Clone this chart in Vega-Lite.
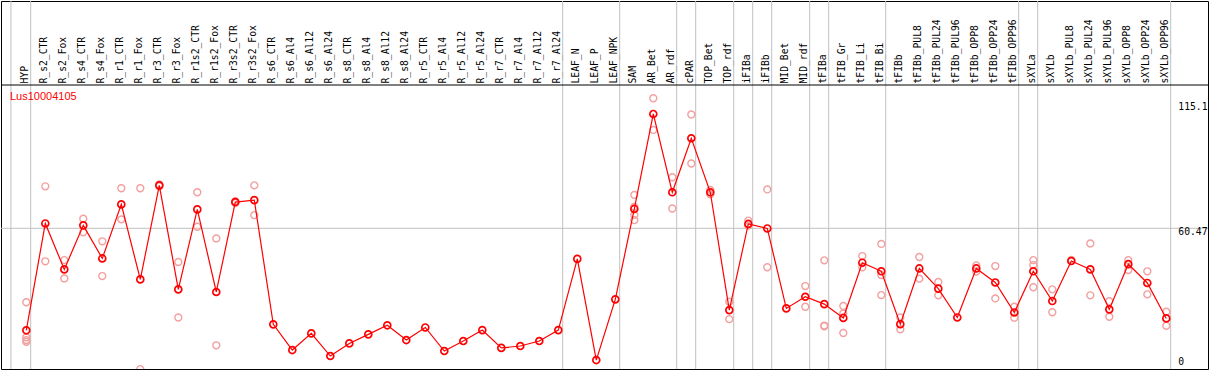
{
  "$schema": "https://vega.github.io/schema/vega-lite/v6.json",
  "width": 1207,
  "height": 368,
  "autosize": {"type": "none"},
  "padding": {"left": 1, "top": 1, "right": 1, "bottom": 1},
  "background": "white",
  "config": {"view": {"stroke": "black", "strokeWidth": 1}},
  "data": {"values": [{}]},
  "datasets": {
    "means": [
      {"tissue": "HYP", "value": 17.6},
      {"tissue": "R_s2_CTR", "value": 62.5},
      {"tissue": "R_s2_Fox", "value": 43.2},
      {"tissue": "R_s4_CTR", "value": 61.7},
      {"tissue": "R_s4_Fox", "value": 47.8},
      {"tissue": "R_r1_CTR", "value": 70.5},
      {"tissue": "R_r1_Fox", "value": 39.0},
      {"tissue": "R_r3_CTR", "value": 78.5},
      {"tissue": "R_r3_Fox", "value": 34.8},
      {"tissue": "R_r1s2_CTR", "value": 68.4},
      {"tissue": "R_r1s2_Fox", "value": 33.7},
      {"tissue": "R_r3s2_CTR", "value": 71.5},
      {"tissue": "R_r3s2_Fox", "value": 72.3},
      {"tissue": "R_s6_CTR", "value": 20.1},
      {"tissue": "R_s6_Al4", "value": 9.3},
      {"tissue": "R_s6_Al12", "value": 16.3},
      {"tissue": "R_s6_Al24", "value": 6.8},
      {"tissue": "R_s8_CTR", "value": 12.1},
      {"tissue": "R_s8_Al4", "value": 15.9},
      {"tissue": "R_s8_Al12", "value": 19.7},
      {"tissue": "R_s8_Al24", "value": 13.5},
      {"tissue": "R_r5_CTR", "value": 18.8},
      {"tissue": "R_r5_Al4", "value": 8.9},
      {"tissue": "R_r5_Al12", "value": 13.1},
      {"tissue": "R_r5_Al24", "value": 17.7},
      {"tissue": "R_r7_CTR", "value": 10.2},
      {"tissue": "R_r7_Al4", "value": 11.0},
      {"tissue": "R_r7_Al12", "value": 13.1},
      {"tissue": "R_r7_Al24", "value": 17.7},
      {"tissue": "LEAF_N", "value": 47.6},
      {"tissue": "LEAF_P", "value": 5.1},
      {"tissue": "LEAF_NPK", "value": 30.6},
      {"tissue": "SAM", "value": 68.6},
      {"tissue": "AR_Bet", "value": 108.5},
      {"tissue": "AR_rdf", "value": 75.6},
      {"tissue": "cPAR", "value": 98.3},
      {"tissue": "TOP_Bet", "value": 75.6},
      {"tissue": "TOP_rdf", "value": 26.1},
      {"tissue": "iFIBa", "value": 62.3},
      {"tissue": "iFIBb", "value": 60.4},
      {"tissue": "MID_Bet", "value": 26.8},
      {"tissue": "MID_rdf", "value": 31.7},
      {"tissue": "tFIBa", "value": 28.6},
      {"tissue": "tFIB_Gr", "value": 22.8},
      {"tissue": "tFIB_Li", "value": 46.0},
      {"tissue": "tFIB_Bi", "value": 42.4},
      {"tissue": "tFIBb", "value": 20.2},
      {"tissue": "tFIBb_PUL8", "value": 43.6},
      {"tissue": "tFIBb_PUL24", "value": 35.1},
      {"tissue": "tFIBb_PUL96", "value": 23.0},
      {"tissue": "tFIBb_OPP8", "value": 43.6},
      {"tissue": "tFIBb_OPP24", "value": 37.7},
      {"tissue": "tFIBb_OPP96", "value": 25.1},
      {"tissue": "sXYLa", "value": 42.4},
      {"tissue": "sXYLb", "value": 29.9},
      {"tissue": "sXYLb_PUL8", "value": 46.7},
      {"tissue": "sXYLb_PUL24", "value": 43.2},
      {"tissue": "sXYLb_PUL96", "value": 26.4},
      {"tissue": "sXYLb_OPP8", "value": 45.4},
      {"tissue": "sXYLb_OPP24", "value": 37.5},
      {"tissue": "sXYLb_OPP96", "value": 22.6}
    ],
    "reps": [
      {"tissue": "HYP", "value": 29.4},
      {"tissue": "HYP", "value": 14.7},
      {"tissue": "HYP", "value": 13.5},
      {"tissue": "HYP", "value": 12.8},
      {"tissue": "R_s2_CTR", "value": 78.1},
      {"tissue": "R_s2_CTR", "value": 46.6},
      {"tissue": "R_s2_Fox", "value": 47.1},
      {"tissue": "R_s2_Fox", "value": 39.4},
      {"tissue": "R_s4_CTR", "value": 64.5},
      {"tissue": "R_s4_CTR", "value": 58.8},
      {"tissue": "R_s4_Fox", "value": 55.0},
      {"tissue": "R_s4_Fox", "value": 40.4},
      {"tissue": "R_r1_CTR", "value": 77.3},
      {"tissue": "R_r1_CTR", "value": 64.2},
      {"tissue": "R_r1_Fox", "value": 77.3},
      {"tissue": "R_r1_Fox", "value": 1.3},
      {"tissue": "R_r3_CTR", "value": 78.9},
      {"tissue": "R_r3_CTR", "value": 78.1},
      {"tissue": "R_r3_Fox", "value": 46.3},
      {"tissue": "R_r3_Fox", "value": 23.0},
      {"tissue": "R_r1s2_CTR", "value": 75.6},
      {"tissue": "R_r1s2_CTR", "value": 61.1},
      {"tissue": "R_r1s2_Fox", "value": 56.2},
      {"tissue": "R_r1s2_Fox", "value": 11.3},
      {"tissue": "R_r3s2_CTR", "value": 71.9},
      {"tissue": "R_r3s2_CTR", "value": 71.1},
      {"tissue": "R_r3s2_Fox", "value": 78.5},
      {"tissue": "R_r3s2_Fox", "value": 66.0},
      {"tissue": "SAM", "value": 74.5},
      {"tissue": "SAM", "value": 69.5},
      {"tissue": "SAM", "value": 66.1},
      {"tissue": "SAM", "value": 63.9},
      {"tissue": "AR_Bet", "value": 115.1},
      {"tissue": "AR_Bet", "value": 101.8},
      {"tissue": "AR_rdf", "value": 81.9},
      {"tissue": "AR_rdf", "value": 68.8},
      {"tissue": "cPAR", "value": 108.3},
      {"tissue": "cPAR", "value": 87.7},
      {"tissue": "TOP_Bet", "value": 76.6},
      {"tissue": "TOP_Bet", "value": 74.8},
      {"tissue": "TOP_rdf", "value": 29.6},
      {"tissue": "TOP_rdf", "value": 22.3},
      {"tissue": "iFIBa", "value": 63.7},
      {"tissue": "iFIBa", "value": 61.6},
      {"tissue": "iFIBb", "value": 76.8},
      {"tissue": "iFIBb", "value": 44.1},
      {"tissue": "MID_rdf", "value": 36.2},
      {"tissue": "MID_rdf", "value": 27.5},
      {"tissue": "tFIBa", "value": 47.0},
      {"tissue": "tFIBa", "value": 19.3},
      {"tissue": "tFIBa", "value": 19.6},
      {"tissue": "tFIB_Gr", "value": 27.8},
      {"tissue": "tFIB_Gr", "value": 24.7},
      {"tissue": "tFIB_Gr", "value": 16.5},
      {"tissue": "tFIB_Li", "value": 48.8},
      {"tissue": "tFIB_Li", "value": 44.1},
      {"tissue": "tFIB_Bi", "value": 53.9},
      {"tissue": "tFIB_Bi", "value": 40.8},
      {"tissue": "tFIB_Bi", "value": 32.4},
      {"tissue": "tFIBb", "value": 23.0},
      {"tissue": "tFIBb", "value": 18.0},
      {"tissue": "tFIBb_PUL8", "value": 48.4},
      {"tissue": "tFIBb_PUL8", "value": 39.3},
      {"tissue": "tFIBb_PUL24", "value": 37.9},
      {"tissue": "tFIBb_PUL24", "value": 32.3},
      {"tissue": "tFIBb_OPP8", "value": 44.9},
      {"tissue": "tFIBb_OPP8", "value": 42.3},
      {"tissue": "tFIBb_OPP24", "value": 44.6},
      {"tissue": "tFIBb_OPP24", "value": 31.0},
      {"tissue": "tFIBb_OPP96", "value": 27.5},
      {"tissue": "tFIBb_OPP96", "value": 22.9},
      {"tissue": "sXYLa", "value": 47.1},
      {"tissue": "sXYLa", "value": 45.0},
      {"tissue": "sXYLa", "value": 35.7},
      {"tissue": "sXYLb", "value": 34.8},
      {"tissue": "sXYLb", "value": 25.2},
      {"tissue": "sXYLb_PUL8", "value": 47.2},
      {"tissue": "sXYLb_PUL24", "value": 54.1},
      {"tissue": "sXYLb_PUL24", "value": 32.3},
      {"tissue": "sXYLb_PUL96", "value": 29.8},
      {"tissue": "sXYLb_PUL96", "value": 23.3},
      {"tissue": "sXYLb_OPP8", "value": 47.1},
      {"tissue": "sXYLb_OPP8", "value": 42.9},
      {"tissue": "sXYLb_OPP24", "value": 42.4},
      {"tissue": "sXYLb_OPP24", "value": 32.7},
      {"tissue": "sXYLb_OPP96", "value": 25.4},
      {"tissue": "sXYLb_OPP96", "value": 19.5}
    ],
    "separators": [
      {"tissue": "HYP"},
      {"tissue": "R_r7_Al24"},
      {"tissue": "LEAF_NPK"},
      {"tissue": "AR_rdf"},
      {"tissue": "cPAR"},
      {"tissue": "TOP_rdf"},
      {"tissue": "iFIBa"},
      {"tissue": "iFIBb"},
      {"tissue": "MID_rdf"},
      {"tissue": "tFIBa"},
      {"tissue": "tFIB_Bi"},
      {"tissue": "tFIBb_OPP96"},
      {"tissue": "sXYLa"},
      {"tissue": "sXYLb_OPP96"}
    ]
  },
  "layer": [
    {
      "data": {"name": "separators"},
      "mark": {"type": "rule", "color": "#c0c0c0", "strokeWidth": 1, "xOffset": 4.4},
      "encoding": {
        "x": {
          "field": "tissue",
          "type": "nominal",
          "scale": {
            "type": "point",
            "domain": ["HYP","R_s2_CTR","R_s2_Fox","R_s4_CTR","R_s4_Fox","R_r1_CTR","R_r1_Fox","R_r3_CTR","R_r3_Fox","R_r1s2_CTR","R_r1s2_Fox","R_r3s2_CTR","R_r3s2_Fox","R_s6_CTR","R_s6_Al4","R_s6_Al12","R_s6_Al24","R_s8_CTR","R_s8_Al4","R_s8_Al12","R_s8_Al24","R_r5_CTR","R_r5_Al4","R_r5_Al12","R_r5_Al24","R_r7_CTR","R_r7_Al4","R_r7_Al12","R_r7_Al24","LEAF_N","LEAF_P","LEAF_NPK","SAM","AR_Bet","AR_rdf","cPAR","TOP_Bet","TOP_rdf","iFIBa","iFIBb","MID_Bet","MID_rdf","tFIBa","tFIB_Gr","tFIB_Li","tFIB_Bi","tFIBb","tFIBb_PUL8","tFIBb_PUL24","tFIBb_PUL96","tFIBb_OPP8","tFIBb_OPP24","tFIBb_OPP96","sXYLa","sXYLb","sXYLb_PUL8","sXYLb_PUL24","sXYLb_PUL96","sXYLb_OPP8","sXYLb_OPP24","sXYLb_OPP96"],
            "range": [25.3, 1165.3],
            "padding": 0,
            "round": false
          },
          "axis": {
            "orient": "top",
            "offset": -84,
            "title": null,
            "ticks": false,
            "grid": false,
            "domain": false,
            "labelAngle": -90,
            "labelFont": "DejaVu Sans Mono",
            "labelFontSize": 9.7,
            "labelColor": "black",
            "labelPadding": 2,
            "labelOffset": -2,
            "labelOverlap": false,
            "labelBound": false
          }
        }
      }
    },
    {
      "mark": {"type": "rule", "color": "#c0c0c0", "strokeWidth": 1, "xOffset": -15.4},
      "encoding": {"x": {"datum": "HYP", "type": "nominal"}}
    },
    {
      "mark": {"type": "rule", "color": "#c0c0c0", "strokeWidth": 1},
      "encoding": {
        "y": {"datum": 60.47, "type": "quantitative", "scale": {"domain": [1.345, 155.97], "nice": false, "zero": false}, "axis": null}
      }
    },
    {
      "mark": {"type": "rule", "color": "black", "strokeWidth": 1},
      "encoding": {
        "y": {"datum": 120.67, "type": "quantitative"}
      }
    },
    {
      "data": {"name": "reps"},
      "mark": {"type": "point", "shape": "circle", "filled": false, "color": "#f2a0a0", "strokeWidth": 1.4, "size": 48, "opacity": 1, "clip": true},
      "encoding": {
        "x": {"field": "tissue", "type": "nominal"},
        "y": {"field": "value", "type": "quantitative"}
      }
    },
    {
      "data": {"name": "means"},
      "mark": {"type": "line", "color": "#ff0000", "strokeWidth": 1.2},
      "encoding": {
        "x": {"field": "tissue", "type": "nominal"},
        "y": {"field": "value", "type": "quantitative"}
      }
    },
    {
      "data": {"name": "means"},
      "mark": {"type": "point", "shape": "circle", "filled": false, "color": "#ff0000", "strokeWidth": 1.7, "size": 48, "opacity": 1},
      "encoding": {
        "x": {"field": "tissue", "type": "nominal"},
        "y": {"field": "value", "type": "quantitative"}
      }
    },
    {
      "mark": {"type": "text", "text": "Lus10004105", "align": "left", "baseline": "middle", "dx": -16.3, "dy": -1, "font": "Liberation Sans", "fontSize": 11, "color": "#ff0000"},
      "encoding": {
        "x": {"datum": "HYP", "type": "nominal"},
        "y": {"datum": 115.1, "type": "quantitative"}
      }
    },
    {
      "mark": {"type": "text", "text": "115.1", "align": "left", "baseline": "middle", "dx": 12, "dy": 8.4, "font": "DejaVu Sans Mono", "fontSize": 9.7, "color": "black"},
      "encoding": {
        "x": {"datum": "sXYLb_OPP96", "type": "nominal"},
        "y": {"datum": 115.1, "type": "quantitative"}
      }
    },
    {
      "mark": {"type": "text", "text": "60.47", "align": "left", "baseline": "middle", "dx": 12, "dy": 4, "font": "DejaVu Sans Mono", "fontSize": 9.7, "color": "black"},
      "encoding": {
        "x": {"datum": "sXYLb_OPP96", "type": "nominal"},
        "y": {"datum": 60.47, "type": "quantitative"}
      }
    },
    {
      "mark": {"type": "text", "text": "0", "align": "left", "baseline": "middle", "dx": 12, "dy": -10.5, "font": "DejaVu Sans Mono", "fontSize": 9.7, "color": "black"},
      "encoding": {
        "x": {"datum": "sXYLb_OPP96", "type": "nominal"},
        "y": {"datum": 0, "type": "quantitative"}
      }
    }
  ]
}
